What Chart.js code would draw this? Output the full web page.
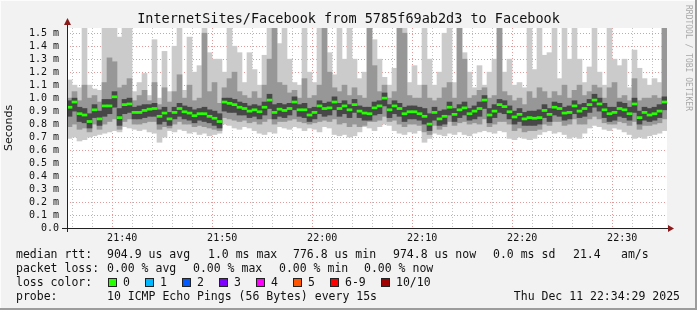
<!DOCTYPE html>
<html>
<head>
<meta charset="utf-8">
<script src="https://cdn.jsdelivr.net/npm/chart.js@4.4.1/dist/chart.umd.min.js"></script>
<style>
  html, body { margin: 0; padding: 0; background: #f2f2f2; }
  #wrap { position: relative; width: 697px; height: 310px; overflow: hidden; }
  #chart { position: absolute; left: 0; top: 0; }
  .t { position: absolute; font: 11.5px 'DejaVu Sans Mono', monospace; color: #111; white-space: pre; line-height: 14px; }
  .box { position: absolute; width: 7px; height: 7px; border: 1px solid #222; }
  #title { position: absolute; left: 0; width: 697px; top: 10px; text-align: center; font: 13.5px 'DejaVu Sans Mono', monospace; color: #111; line-height: 16px; }
  #credit { position: absolute; left: 684px; top: 5px; writing-mode: vertical-rl; font: 8px 'DejaVu Sans Mono', monospace; color: #a8a8a8; }
  .edge { position: absolute; }
</style>
</head>
<body>
<div id="wrap">
  <canvas id="chart" width="697" height="310"></canvas>
  <div id="title">InternetSites/Facebook from 5785f69ab2d3 to Facebook</div>
  <div id="credit">RRDTOOL / TOBI OETIKER</div>

  <div class="t" style="left:16px;top:247px">median rtt:</div>
  <div class="t" style="left:107px;top:247px">904.9 us avg</div>
  <div class="t" style="left:208px;top:247px">1.0 ms max</div>
  <div class="t" style="left:293px;top:247px">776.8 us min</div>
  <div class="t" style="left:393px;top:247px">974.8 us now</div>
  <div class="t" style="left:493px;top:247px">0.0 ms sd</div>
  <div class="t" style="left:573px;top:247px">21.4</div>
  <div class="t" style="left:621px;top:247px">am/s</div>

  <div class="t" style="left:16px;top:261px">packet loss:</div>
  <div class="t" style="left:107px;top:261px">0.00 % avg</div>
  <div class="t" style="left:193px;top:261px">0.00 % max</div>
  <div class="t" style="left:279px;top:261px">0.00 % min</div>
  <div class="t" style="left:364px;top:261px">0.00 % now</div>

  <div class="t" style="left:16px;top:275px">loss color:</div>
  <div id="lossRow"></div>

  <div class="t" style="left:16px;top:289px">probe:</div>
  <div class="t" style="left:107px;top:289px">10 ICMP Echo Pings (56 Bytes) every 15s</div>
  <div class="t" style="right:17px;top:289px">Thu Dec 11 22:34:29 2025</div>

  <div class="edge" style="left:0;top:0;width:697px;height:1px;background:#fcfcfc"></div>
  <div class="edge" style="left:0;top:0;width:1px;height:310px;background:#fcfcfc"></div>
  <div class="edge" style="left:695px;top:0;width:2px;height:310px;background:#9c9c9c"></div>
  <div class="edge" style="left:0;top:308px;width:697px;height:2px;background:#9c9c9c"></div>
</div>
<script>
// time axis: minutes after 21:00, one sample every 30 s
const START_MIN = 34 + 29 / 60;   // 21:34:29
const SPAN_MIN = 60;
const STEP_MIN = 0.5;

const gridMinutes = [36, 38, 40, 42, 44, 46, 48, 50, 52, 54, 56, 58, 60, 62, 64, 66, 68, 70, 72, 74, 76, 78, 80, 82, 84, 86, 88, 90, 92, 94];
const majorMinutes = [40, 50, 60, 70, 80, 90];
const majorLabels = ['21:40', '21:50', '22:00', '22:10', '22:20', '22:30'];
const yTickValues = [0, 0.1, 0.2, 0.3, 0.4, 0.5, 0.6, 0.7, 0.8, 0.9, 1.0, 1.1, 1.2, 1.3, 1.4, 1.5];

// median rtt (ms)
const median = [
  0.93,0.97,0.88,0.87,0.82,0.91,0.84,0.94,0.94,1.01,0.85,0.95,0.955,0.89,0.89,0.905,0.915,0.92,0.86,0.885,0.84,0.89,0.92,0.895,
  0.885,0.865,0.88,0.88,0.86,0.845,0.82,0.97,0.96,0.95,0.93,0.92,0.90,0.91,0.895,0.93,0.985,0.89,0.915,0.905,0.92,0.97,0.91,0.91,
  0.87,0.89,0.94,0.92,0.925,0.97,0.92,0.94,0.91,0.95,0.90,0.885,0.88,0.925,0.94,1.0,0.91,0.94,0.92,0.88,0.895,0.895,0.88,0.86,
  0.80,0.89,0.84,0.86,0.93,0.875,0.91,0.925,0.88,0.90,0.92,0.985,0.87,0.90,0.95,0.935,0.895,0.855,0.875,0.84,0.85,0.845,0.85,0.905,
  0.875,0.93,0.92,0.885,0.89,0.94,0.90,0.92,0.95,0.985,0.955,0.91,0.88,0.89,0.92,0.91,0.88,0.955,0.85,0.89,0.87,0.88,0.90,0.97
];
// smoke: fastest / slowest ping
const minRtt = [
  0.69,0.70,0.67,0.68,0.70,0.71,0.72,0.73,0.74,0.75,0.74,0.78,0.77,0.76,0.75,0.76,0.74,0.73,0.66,0.70,0.75,0.74,0.76,0.75,
  0.73,0.74,0.72,0.73,0.71,0.72,0.73,0.80,0.79,0.77,0.76,0.78,0.77,0.75,0.73,0.72,0.74,0.73,0.78,0.77,0.76,0.78,0.77,0.75,
  0.77,0.76,0.74,0.78,0.77,0.72,0.71,0.72,0.70,0.71,0.74,0.78,0.77,0.75,0.78,0.80,0.79,0.75,0.73,0.72,0.74,0.73,0.75,0.66,
  0.69,0.73,0.72,0.71,0.73,0.72,0.74,0.72,0.71,0.73,0.74,0.75,0.74,0.73,0.75,0.74,0.69,0.68,0.70,0.69,0.68,0.69,0.72,0.74,
  0.75,0.73,0.74,0.72,0.69,0.70,0.69,0.73,0.77,0.79,0.78,0.76,0.75,0.77,0.76,0.74,0.72,0.69,0.70,0.69,0.71,0.72,0.73,0.75
];
const maxRtt = [
  1.14,1.10,1.08,1.54,1.10,1.07,1.06,1.54,1.54,1.54,1.47,1.54,1.54,1.05,1.12,1.19,1.02,1.45,1.0,1.36,1.05,1.40,1.54,1.06,
  1.47,1.2,1.25,1.54,1.35,1.3,1.3,1.2,1.54,1.4,1.35,1.12,1.35,1.22,1.1,1.33,1.54,1.54,1.42,1.54,1.3,1.12,1.1,1.54,
  1.2,1.12,1.54,1.54,1.35,1.18,1.54,1.3,1.54,1.3,1.15,1.2,1.54,1.45,1.3,1.16,1.1,1.23,1.54,1.54,1.12,1.25,1.1,1.54,
  1.3,1.1,1.2,1.5,1.54,1.12,1.54,1.35,1.2,1.08,1.25,1.1,1.2,1.3,1.54,1.2,1.3,1.1,1.12,1.08,1.54,1.22,1.54,1.33,
  1.35,1.54,1.15,1.54,1.3,1.54,1.3,1.12,1.24,1.54,1.2,1.1,1.54,1.3,1.25,1.3,1.08,1.37,1.23,1.15,1.1,1.15,1.12,1.54
];
// 2nd fastest / 2nd slowest
const lowMid = [
  0.78,0.80,0.76,0.77,0.74,0.80,0.76,0.80,0.82,0.84,0.76,0.82,0.84,0.80,0.80,0.81,0.82,0.82,0.76,0.78,0.77,0.80,0.82,0.80,
  0.80,0.78,0.79,0.78,0.77,0.76,0.75,0.85,0.84,0.83,0.82,0.83,0.81,0.82,0.80,0.82,0.84,0.80,0.82,0.82,0.83,0.84,0.82,0.81,
  0.80,0.81,0.82,0.83,0.82,0.84,0.80,0.81,0.78,0.80,0.78,0.79,0.82,0.82,0.83,0.86,0.82,0.83,0.80,0.78,0.80,0.80,0.79,0.74,
  0.72,0.79,0.76,0.78,0.82,0.79,0.81,0.82,0.80,0.81,0.80,0.84,0.78,0.80,0.82,0.82,0.80,0.75,0.77,0.74,0.75,0.75,0.76,0.80,
  0.79,0.82,0.82,0.79,0.80,0.84,0.80,0.80,0.84,0.86,0.84,0.81,0.80,0.80,0.82,0.81,0.79,0.82,0.76,0.79,0.79,0.80,0.81,0.84
];
const highMid = [
  1.00,1.05,0.98,1.10,1.00,1.02,0.97,1.12,1.31,1.28,1.08,1.10,1.15,0.98,1.02,1.06,0.98,1.12,0.95,1.08,0.97,1.05,1.18,1.00,
  1.10,0.98,1.00,1.50,1.05,1.12,0.96,1.08,1.15,1.20,1.05,1.02,1.00,1.05,1.00,1.10,1.30,1.54,1.12,1.10,1.04,1.06,1.00,1.15,
  1.00,1.02,1.10,1.54,1.20,1.08,1.05,1.10,1.02,1.08,1.02,1.00,1.54,1.25,1.05,1.10,1.00,1.05,1.54,1.50,1.02,1.00,1.00,1.10,
  1.00,0.98,1.00,1.08,1.12,1.00,1.54,1.30,1.00,1.02,1.06,1.08,1.00,1.02,1.54,1.05,1.02,0.98,1.00,0.95,1.05,1.00,1.08,1.05,
  1.00,1.05,1.02,1.10,1.00,1.06,1.10,1.02,1.05,1.10,1.08,1.00,1.08,1.12,1.00,1.02,0.98,1.15,0.98,1.00,1.00,1.02,1.00,1.54
];
// pings nearest the median
const lowCore = [
  0.86,0.90,0.82,0.81,0.77,0.85,0.79,0.86,0.88,0.93,0.79,0.88,0.89,0.84,0.84,0.85,0.86,0.86,0.80,0.82,0.79,0.84,0.86,0.84,
  0.83,0.81,0.83,0.82,0.81,0.79,0.77,0.90,0.89,0.89,0.87,0.87,0.85,0.86,0.84,0.87,0.92,0.84,0.86,0.85,0.87,0.91,0.86,0.85,
  0.82,0.84,0.88,0.86,0.87,0.91,0.86,0.88,0.85,0.89,0.85,0.83,0.83,0.87,0.88,0.94,0.85,0.88,0.86,0.82,0.84,0.84,0.83,0.80,
  0.75,0.83,0.79,0.80,0.87,0.82,0.85,0.87,0.83,0.84,0.86,0.92,0.81,0.85,0.89,0.88,0.84,0.80,0.82,0.79,0.79,0.79,0.80,0.85,
  0.82,0.87,0.86,0.83,0.84,0.88,0.85,0.86,0.89,0.93,0.90,0.85,0.82,0.83,0.86,0.85,0.83,0.89,0.80,0.83,0.82,0.83,0.85,0.91
];
const highCore = [
  0.98,1.00,0.93,0.92,0.88,0.95,0.90,0.99,0.99,1.05,0.92,0.99,1.00,0.93,0.94,0.95,0.95,0.96,0.91,0.93,0.89,0.93,0.96,0.94,
  0.93,0.91,0.92,0.93,0.91,0.90,0.88,1.00,1.00,0.99,0.97,0.96,0.94,0.95,0.94,0.97,1.03,0.95,0.96,0.95,0.96,1.01,0.95,0.96,
  0.92,0.93,0.98,0.96,0.97,1.01,0.96,0.98,0.95,0.99,0.94,0.93,0.93,0.97,0.98,1.04,0.95,0.98,0.96,0.93,0.94,0.94,0.93,0.92,
  0.88,0.93,0.90,0.91,0.97,0.92,0.95,0.97,0.92,0.94,0.97,1.02,0.92,0.95,0.99,0.98,0.94,0.90,0.92,0.89,0.90,0.90,0.91,0.95,
  0.92,0.97,0.96,0.93,0.94,0.98,0.95,0.96,0.99,1.03,1.00,0.96,0.93,0.93,0.97,0.96,0.93,1.00,0.90,0.93,0.92,0.93,0.95,1.01
];

const lossColors = ['#26ff00', '#00b8ff', '#0059ff', '#7e00ff', '#ff00ff', '#ff5500', '#ff0000', '#a10000'];
const lossLabels = ['0', '1', '2', '3', '4', '5', '6-9', '10/10'];

const colors = {
  light: '#cbcbcb',
  mid: '#979797',
  dark: '#474747',
  median: '#26ff00',
  gridMajor: '#e39a9a',
  gridMinor: '#c4c4c4',
  axis: '#222222',
  arrow: '#8b1a1a',
  text: '#111111'
};

// loss colour legend
const lossRow = document.getElementById('lossRow');
const boxX = [108, 145, 182, 219, 256, 293, 330, 381];
lossLabels.forEach(function(label, i) {
  const box = document.createElement('div');
  box.className = 'box';
  box.style.left = boxX[i] + 'px';
  box.style.top = '278px';
  box.style.background = lossColors[i];
  lossRow.appendChild(box);
  const txt = document.createElement('div');
  txt.className = 't';
  txt.style.left = (boxX[i] + 15) + 'px';
  txt.style.top = '275px';
  txt.textContent = label;
  lossRow.appendChild(txt);
});

const xs = median.map((_, i) => START_MIN + STEP_MIN * (i + 0.5));
function band(lo, hi) {
  return lo.map((v, i) => ({ x: xs[i], y: [v, hi[i]] }));
}
const medianMarks = median.map((v, i) => ({ x: xs[i], y: [v - 0.008, v + 0.008] }));

const barCommon = { grouped: false, barPercentage: 1, categoryPercentage: 1, borderWidth: 0 };

const plotBackground = {
  id: 'plotBackground',
  beforeDraw(chart) {
    const a = chart.chartArea, ctx = chart.ctx;
    ctx.save();
    ctx.fillStyle = '#ffffff';
    ctx.fillRect(a.left, a.top, a.right - a.left, a.bottom - a.top);
    ctx.restore();
  },
  afterDraw(chart) {
    const a = chart.chartArea, ctx = chart.ctx;
    ctx.save();
    ctx.strokeStyle = colors.axis;
    ctx.lineWidth = 1;
    ctx.beginPath();
    ctx.moveTo(a.left + 0.5, a.bottom + 4);
    ctx.lineTo(a.left + 0.5, a.top - 6);
    ctx.moveTo(a.left - 5, a.bottom + 0.5);
    ctx.lineTo(a.right + 3, a.bottom + 0.5);
    ctx.stroke();
    ctx.fillStyle = colors.arrow;
    ctx.beginPath();
    ctx.moveTo(a.left + 0.5, a.top - 10);
    ctx.lineTo(a.left - 3, a.top - 3);
    ctx.lineTo(a.left + 4, a.top - 3);
    ctx.closePath();
    ctx.fill();
    ctx.beginPath();
    ctx.moveTo(a.right + 7, a.bottom + 0.5);
    ctx.lineTo(a.right + 1, a.bottom - 3);
    ctx.lineTo(a.right + 1, a.bottom + 4);
    ctx.closePath();
    ctx.fill();
    ctx.restore();
  }
};

const tickFont = { family: "'DejaVu Sans Mono', monospace", size: 10 };

new Chart(document.getElementById('chart').getContext('2d'), {
  type: 'bar',
  data: {
    datasets: [
      Object.assign({ label: 'median', data: medianMarks, backgroundColor: colors.median, order: 0 }, barCommon),
      Object.assign({ label: 'core', data: band(lowCore, highCore), backgroundColor: colors.dark, order: 1 }, barCommon),
      Object.assign({ label: 'mid', data: band(lowMid, highMid), backgroundColor: colors.mid, order: 2 }, barCommon),
      Object.assign({ label: 'range', data: band(minRtt, maxRtt), backgroundColor: colors.light, order: 3 }, barCommon)
    ]
  },
  options: {
    responsive: false,
    animation: false,
    devicePixelRatio: 1,
    layout: { padding: { top: 28, right: 30, bottom: 62, left: 0 } },
    plugins: {
      legend: { display: false },
      tooltip: { enabled: false },
      title: { display: false }
    },
    scales: {
      x: {
        type: 'linear',
        min: START_MIN,
        max: START_MIN + SPAN_MIN,
        offset: false,
        z: 1,
        afterFit: function(scale) { scale.height = 20; },
        afterBuildTicks: function(scale) {
          scale.ticks = gridMinutes.map(v => ({ value: v }));
        },
        grid: {
          drawTicks: false,
          color: function(ctx) {
            return ctx.tick && majorMinutes.includes(ctx.tick.value) ? colors.gridMajor : colors.gridMinor;
          }
        },
        border: { display: false, dash: [1, 2] },
        ticks: {
          autoSkip: false,
          maxRotation: 0,
          padding: 4,
          color: colors.text,
          font: tickFont,
          callback: function(value) {
            const k = majorMinutes.indexOf(value);
            return k >= 0 ? majorLabels[k] : '';
          }
        }
      },
      y: {
        min: 0,
        max: 1.54,
        z: 1,
        afterFit: function(scale) { scale.width = 67; },
        afterBuildTicks: function(scale) {
          scale.ticks = yTickValues.map(v => ({ value: v }));
        },
        grid: {
          drawTicks: false,
          color: function(ctx) {
            return ctx.tick && ctx.tick.value === 0 ? 'rgba(0,0,0,0)' : colors.gridMajor;
          }
        },
        border: { display: false, dash: [1, 2] },
        ticks: {
          autoSkip: false,
          padding: 8,
          color: colors.text,
          font: tickFont,
          callback: function(value) {
            return value === 0 ? '0.0' : value.toFixed(1) + ' m';
          }
        },
        title: {
          display: true,
          text: 'Seconds',
          color: colors.text,
          font: { family: "'DejaVu Sans', sans-serif", size: 11 },
          padding: { top: 3, bottom: 0 }
        }
      }
    }
  },
  plugins: [plotBackground]
});
</script>
</body>
</html>
